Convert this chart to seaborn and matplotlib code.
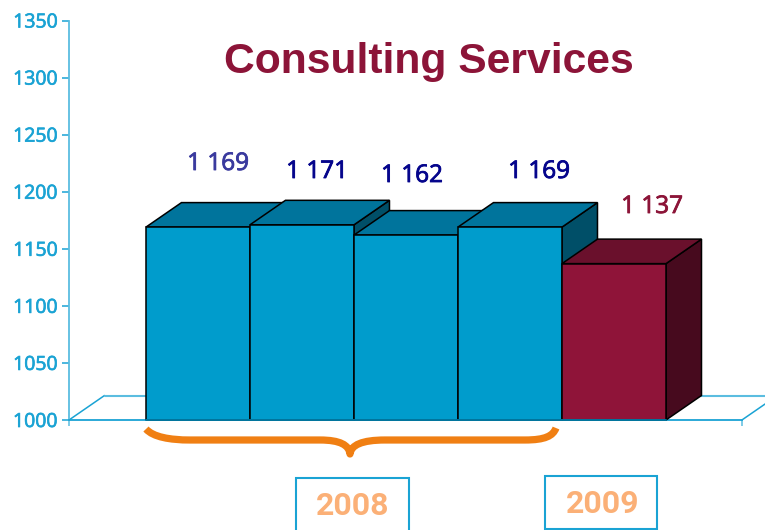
import matplotlib
matplotlib.use("Agg")
import matplotlib.pyplot as plt
import matplotlib.patheffects as pe
from matplotlib.patches import PathPatch, Polygon, Rectangle
from matplotlib.path import Path
import pandas as pd
import seaborn as sns

# chart values
bar_names = ["2008 a", "2008 b", "2008 c", "2008 d", "2009"]
bar_values = [1169, 1171, 1162, 1169, 1137]
bar_labels = ["1 169", "1 171", "1 162", "1 169", "1 137"]
y_ticks = [1000, 1050, 1100, 1150, 1200, 1250, 1300, 1350]
year_labels = ["2008", "2009"]

# colours
front_colors = ["#009ccc", "#009ccc", "#009ccc", "#009ccc", "#8f1439"]
top_colors = ["#00749c", "#00749c", "#00749c", "#00749c", "#6a102c"]
side_colors = ["#004f68", "#004f68", "#004f68", "#004f68", "#470a1e"]
label_colors = ["#3a3a9e", "#05058c", "#05058c", "#05058c", "#8c1438"]
axis_color = "#1aa3d4"
floor_color = "#5bbde0"
year_color = "#fbb077"
brace_color = "#f07f13"
title_color = "#8c1438"

# where labels sit in the picture (pixels)
label_px = [(218, 164), (317, 172), (412, 176), (539, 172), (652, 207)]
year_box_px = [(296, 478, 409, 535), (545, 476, 657, 529)]
year_text_px = [(353, 506), (603, 504)]

W, H = 765, 530
sns.set_style("white")
plt.rcParams["font.family"] = ["Open Sans", "DejaVu Sans"]

fig = plt.figure(figsize=(W / 100, H / 100), dpi=100)
ax = fig.add_axes([69 / W, 1 - 420 / H, (W - 69) / W, 399.5 / H])


def fx(x):
    return x / W


def fy(y):
    return 1 - y / H


df = pd.DataFrame({"bar": bar_names, "value": bar_values})
sns.barplot(data=df, x="bar", y="value", hue="bar", palette=front_colors, width=1,
            saturation=1, edgecolor="black", linewidth=1.1, legend=False, ax=ax)

ax.set_xlim(-1.24, 5.452)
ax.set_ylim(1000, 1350)
ax.set_xlabel("")
ax.set_ylabel("")

# depth of the 3d look in data units
dx = 35.5 / 104
dy = 24.5 / (399.5 / 350)

# floor
floor_left = -1.24
floor_right = 5.23
ax.plot([floor_left, floor_left + dx], [1000, 1000 + dy], color=axis_color, lw=1.1, clip_on=False, zorder=1)
ax.plot([floor_left + dx, 0], [1000 + dy, 1000 + dy], color=floor_color, lw=1.5, clip_on=False, zorder=1)
ax.plot([4.5 + dx, floor_right + dx], [1000 + dy, 1000 + dy], color=floor_color, lw=1.5, clip_on=False, zorder=1)
ax.plot([floor_right, floor_right + dx], [1000, 1000 + dy], color=axis_color, lw=1.1, clip_on=False, zorder=1)

# sides and tops, drawn left to right so later bars cover earlier ones
for i, (patch, value) in enumerate(zip(ax.patches, bar_values)):
    z = 3 + i * 3
    left = i - 0.5
    right = i + 0.5
    side = Polygon([(right, 1000), (right + dx, 1000 + dy), (right + dx, value + dy), (right, value)],
                   facecolor=side_colors[i], edgecolor="black", lw=1.1, zorder=z, clip_on=False)
    top = Polygon([(left, value), (left + dx, value + dy), (right + dx, value + dy), (right, value)],
                  facecolor=top_colors[i], edgecolor="black", lw=1.1, zorder=z + 1, clip_on=False)
    ax.add_patch(side)
    ax.add_patch(top)
    patch.set_zorder(z + 2)

ax.plot([-0.5, 4.5], [1000, 1000], color="#00749c", lw=1.4, zorder=30, clip_on=False)

# axes
sns.despine(ax=ax, top=True, right=True)
ax.spines["left"].set_color(floor_color)
ax.spines["left"].set_linewidth(1.3)
ax.spines["bottom"].set_color(axis_color)
ax.spines["bottom"].set_linewidth(1.3)
ax.spines["bottom"].set_bounds(floor_left, floor_right)
ax.set_yticks(y_ticks)
ax.set_xticks([floor_left, floor_right])
ax.set_xticklabels(["", ""])
ax.tick_params(axis="y", length=5, width=1.1, color=axis_color, pad=3,
               labelsize=14, labelcolor=axis_color, left=True)
ax.tick_params(axis="x", length=4.5, width=1.1, color=floor_color, bottom=True)
# the reference digits are a bit heavier than the regular weight
for t in ax.get_yticklabels():
    t.set_path_effects([pe.withStroke(linewidth=0.5, foreground=axis_color)])

# value labels
for (px, py), text, color in zip(label_px, bar_labels, label_colors):
    fig.text(fx(px), fy(py), text, color=color, fontsize=17.5, ha="center", va="center",
             path_effects=[pe.withStroke(linewidth=0.6, foreground=color)])

fig.text(fx(429), fy(62), "Consulting Services", color=title_color, fontsize=30.7,
         fontweight="bold", family="Liberation Sans", ha="center", va="center")

# brace under the 2008 bars
brace_px = [(146, 429), (153, 437), (170, 440), (190, 440), (320, 440),
            (340, 440), (349, 445), (350, 454), (351, 445), (362, 440), (385, 440),
            (525, 440), (545, 440), (553, 436), (556, 428)]
brace_codes = [Path.MOVETO, Path.CURVE4, Path.CURVE4, Path.CURVE4, Path.LINETO,
               Path.CURVE4, Path.CURVE4, Path.CURVE4, Path.CURVE4, Path.CURVE4, Path.CURVE4,
               Path.LINETO, Path.CURVE4, Path.CURVE4, Path.CURVE4]
brace = Path([(fx(x), fy(y)) for x, y in brace_px], brace_codes)
fig.add_artist(PathPatch(brace, facecolor="none", edgecolor=brace_color, lw=5.2,
                         capstyle="butt", joinstyle="round", transform=fig.transFigure))

# year boxes
for (x0, y0, x1, y1), (tx, ty), year in zip(year_box_px, year_text_px, year_labels):
    fig.add_artist(Rectangle((fx(x0), fy(y1)), (x1 - x0) / W, (y1 - y0) / H, facecolor="white",
                             edgecolor=axis_color, lw=1.5, transform=fig.transFigure))
    fig.text(fx(tx), fy(ty), year, color=year_color, fontsize=23, fontweight="bold",
             family="Roboto", ha="center", va="center")

fig.savefig("out.png", dpi=100)
